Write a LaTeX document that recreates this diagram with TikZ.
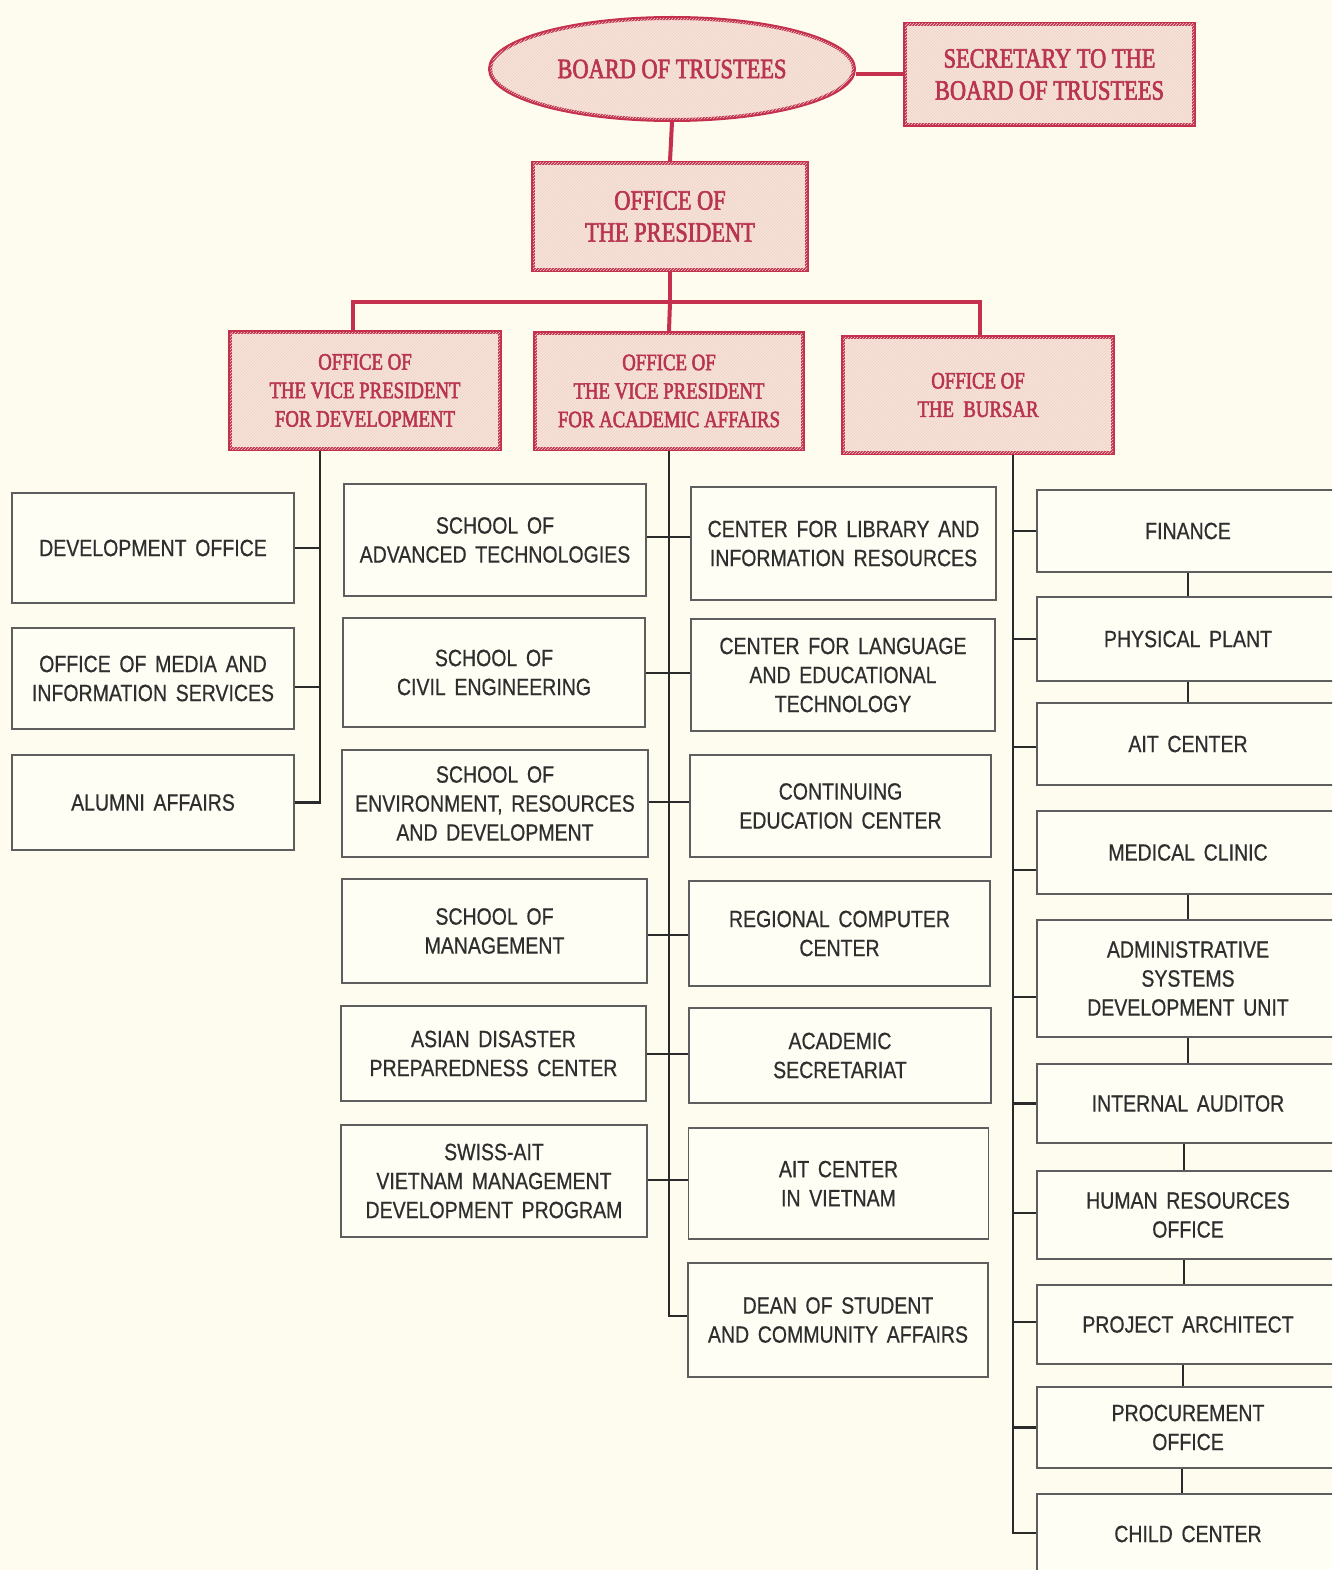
\documentclass[tikz,border=0pt]{standalone}
\usepackage{fontspec}
\usetikzlibrary{shapes.geometric,patterns}
\newfontfamily\redfont[FakeStretch=0.8,FakeBold=2.2]{Liberation Serif}
\newfontfamily\grayfont[FakeStretch=0.83,WordSpace=1.6,FakeBold=0.6]{Liberation Sans}
\definecolor{bgc}{HTML}{FDFCEF}
\definecolor{boxfill}{HTML}{FEFEF4}
\definecolor{redc}{HTML}{C4304D}
\definecolor{redtext}{HTML}{B8344F}
\definecolor{pinkc}{HTML}{F6E3DA}
\definecolor{hatchc}{HTML}{EFD3C8}
\definecolor{grayline}{HTML}{5E5E5E}
\definecolor{graytext}{HTML}{2E2E2E}
\definecolor{connc}{HTML}{2A2A2A}
\begin{document}
\begin{tikzpicture}[x=1pt,y=-1pt,
  redbox/.style={draw=redc, line width=4pt, fill=pinkc,
    postaction={pattern=north east lines, pattern color=hatchc},
    text=redtext, align=center, inner sep=0pt,
    font=\redfont\fontsize{28}{32}\selectfont},
  redsmall/.style={redbox, font=\redfont\fontsize{23.5}{28.5}\selectfont},
  graybox/.style={draw=grayline, line width=1.8pt, fill=boxfill,
    text=graytext, align=center, inner sep=0pt,
    font=\grayfont\fontsize{23.5}{29}\selectfont},
  rbox/.style={graybox, minimum width=302pt},
  redline/.style={draw=redc, line width=4pt},
  conn/.style={draw=connc, line width=2.2pt}]
\useasboundingbox (0,0) rectangle (1332,1570);
\fill[bgc] (0,0) rectangle (1332,1570);
\clip (0,0) rectangle (1332,1570);

% top red nodes
\node[redbox, ellipse, minimum width=364pt, minimum height=102pt] (board) at (672,69) {BOARD OF TRUSTEES};
\node[redbox, minimum width=289pt, minimum height=101pt] (sec) at (1049.5,74.5) {SECRETARY TO THE\\BOARD OF TRUSTEES};
\node[redbox, minimum width=274pt, minimum height=107pt] (pres) at (670,216.5) {OFFICE OF\\THE PRESIDENT};
\node[redsmall, minimum width=270pt, minimum height=117pt] (vpd) at (365,390.5) {OFFICE OF\\THE VICE PRESIDENT\\FOR DEVELOPMENT};
\node[redsmall, minimum width=268pt, minimum height=116pt] (vpa) at (669,391) {OFFICE OF\\THE VICE PRESIDENT\\FOR ACADEMIC AFFAIRS};
\node[redsmall, minimum width=270pt, minimum height=116pt] (vpb) at (978,395) {OFFICE OF\\THE\ \ BURSAR};

% left column
\node[graybox, minimum width=282pt, minimum height=110pt] (dev) at (153,548) {DEVELOPMENT OFFICE};
\node[graybox, minimum width=282pt, minimum height=101pt] (media) at (153,678.5) {OFFICE OF MEDIA AND\\INFORMATION SERVICES};
\node[graybox, minimum width=282pt, minimum height=95pt] (alum) at (153,802.5) {ALUMNI AFFAIRS};

% schools
\node[graybox, minimum width=302pt, minimum height=112pt] (sAT) at (495,540) {SCHOOL OF\\ADVANCED TECHNOLOGIES};
\node[graybox, minimum width=302pt, minimum height=109pt] (sCE) at (494,672.5) {SCHOOL OF\\CIVIL ENGINEERING};
\node[graybox, minimum width=306pt, minimum height=107pt] (sER) at (495,803.5) {SCHOOL OF\\ENVIRONMENT, RESOURCES\\AND DEVELOPMENT};
\node[graybox, minimum width=305pt, minimum height=104pt] (sM) at (494.5,931) {SCHOOL OF\\MANAGEMENT};
\node[graybox, minimum width=305pt, minimum height=95pt] (sAD) at (493.5,1053.5) {ASIAN DISASTER\\PREPAREDNESS CENTER};
\node[graybox, minimum width=306pt, minimum height=112pt] (sSW) at (494,1181) {SWISS-AIT\\VIETNAM MANAGEMENT\\DEVELOPMENT PROGRAM};

% centers
\node[graybox, minimum width=305pt, minimum height=113pt] (cLib) at (843.5,543.5) {CENTER FOR LIBRARY AND\\INFORMATION RESOURCES};
\node[graybox, minimum width=304pt, minimum height=112pt] (cLang) at (843,675) {CENTER FOR LANGUAGE\\AND EDUCATIONAL\\TECHNOLOGY};
\node[graybox, minimum width=301pt, minimum height=102pt] (cCont) at (840.5,806) {CONTINUING\\EDUCATION CENTER};
\node[graybox, minimum width=301pt, minimum height=105pt] (cRC) at (839.5,933.5) {REGIONAL COMPUTER\\CENTER};
\node[graybox, minimum width=302pt, minimum height=95pt] (cAS) at (840,1055.5) {ACADEMIC\\SECRETARIAT};
\node[graybox, minimum width=300pt, minimum height=111pt] (cAV) at (838.5,1183.5) {AIT CENTER\\IN VIETNAM};
\node[graybox, minimum width=300pt, minimum height=114pt] (cDean) at (838,1320) {DEAN OF STUDENT\\AND COMMUNITY AFFAIRS};

% right column
\node[rbox, minimum height=82pt] (fin) at (1188,531) {FINANCE};
\node[rbox, minimum height=84pt] (phy) at (1188,639) {PHYSICAL PLANT};
\node[rbox, minimum height=82pt] (aitc) at (1188,744) {AIT CENTER};
\node[rbox, minimum height=83pt] (med) at (1188,852.5) {MEDICAL CLINIC};
\node[rbox, minimum height=117pt] (adm) at (1188,978.5) {ADMINISTRATIVE\\SYSTEMS\\DEVELOPMENT UNIT};
\node[rbox, minimum height=79pt] (aud) at (1188,1103.5) {INTERNAL AUDITOR};
\node[rbox, minimum height=88pt] (hr) at (1188,1215) {HUMAN RESOURCES\\OFFICE};
\node[rbox, minimum height=79pt] (proj) at (1188,1324.5) {PROJECT ARCHITECT};
\node[rbox, minimum height=81pt] (proc) at (1188,1427.5) {PROCUREMENT\\OFFICE};
\node[rbox, minimum height=80pt] (child) at (1188,1534) {CHILD CENTER};

% red connectors
\coordinate (busc) at (670,302);
\draw[redline] (sec.west) -- (sec.west -| board.east);
\draw[redline] (board.south) -- (pres.north);
\draw[redline] (pres.south) -- (busc);
\draw[redline] (vpd.north -| 353,0) |- (busc) -| (vpb.north -| 980,0);
\draw[redline] (busc) -- (vpa.north);

% development trunk
\draw[conn] (vpd.south -| 320,0) |- (alum.east);
\draw[conn] (dev.east) -- (dev.east -| 320,0);
\draw[conn] (media.east |- 0,687) -- (320,687);

% academic trunk
\draw[conn] (vpa.south) |- (cDean.west |- 0,1316);
\draw[conn] (sAT.east |- 0,537) -- (cLib.west |- 0,537);
\draw[conn] (sCE.east |- 0,673) -- (cLang.west |- 0,673);
\draw[conn] (sER.east |- 0,802) -- (cCont.west |- 0,802);
\draw[conn] (sM.east |- 0,935) -- (cRC.west |- 0,935);
\draw[conn] (sAD.east |- 0,1054) -- (cAS.west |- 0,1054);
\draw[conn] (sSW.east |- 0,1180) -- (cAV.west |- 0,1180);

% bursar trunk
\draw[conn] (vpb.south -| 1013,0) |- (child.west |- 0,1533);
\draw[conn] (fin.west) -- (fin.west -| 1013,0);
\draw[conn] (phy.west) -- (phy.west -| 1013,0);
\draw[conn] (aitc.west |- 0,747) -- (1013,747);
\draw[conn] (med.west |- 0,870) -- (1013,870);
\draw[conn] (adm.west |- 0,997) -- (1013,997);
\draw[conn] (aud.west) -- (aud.west -| 1013,0);
\draw[conn] (hr.west |- 0,1213) -- (1013,1213);
\draw[conn] (proj.west |- 0,1322) -- (1013,1322);
\draw[conn] (proc.west) -- (proc.west -| 1013,0);

% links between right boxes
\draw[conn] (fin.south) -- (phy.north);
\draw[conn] (phy.south) -- (aitc.north);
\draw[conn] (med.south) -- (adm.north);
\draw[conn] (adm.south) -- (aud.north);
\draw[conn] (aud.south -| 1184,0) -- (hr.north -| 1184,0);
\draw[conn] (hr.south -| 1184,0) -- (proj.north -| 1184,0);
\draw[conn] (proj.south -| 1183,0) -- (proc.north -| 1183,0);
\draw[conn] (proc.south -| 1182,0) -- (child.north -| 1182,0);
\end{tikzpicture}
\end{document}
